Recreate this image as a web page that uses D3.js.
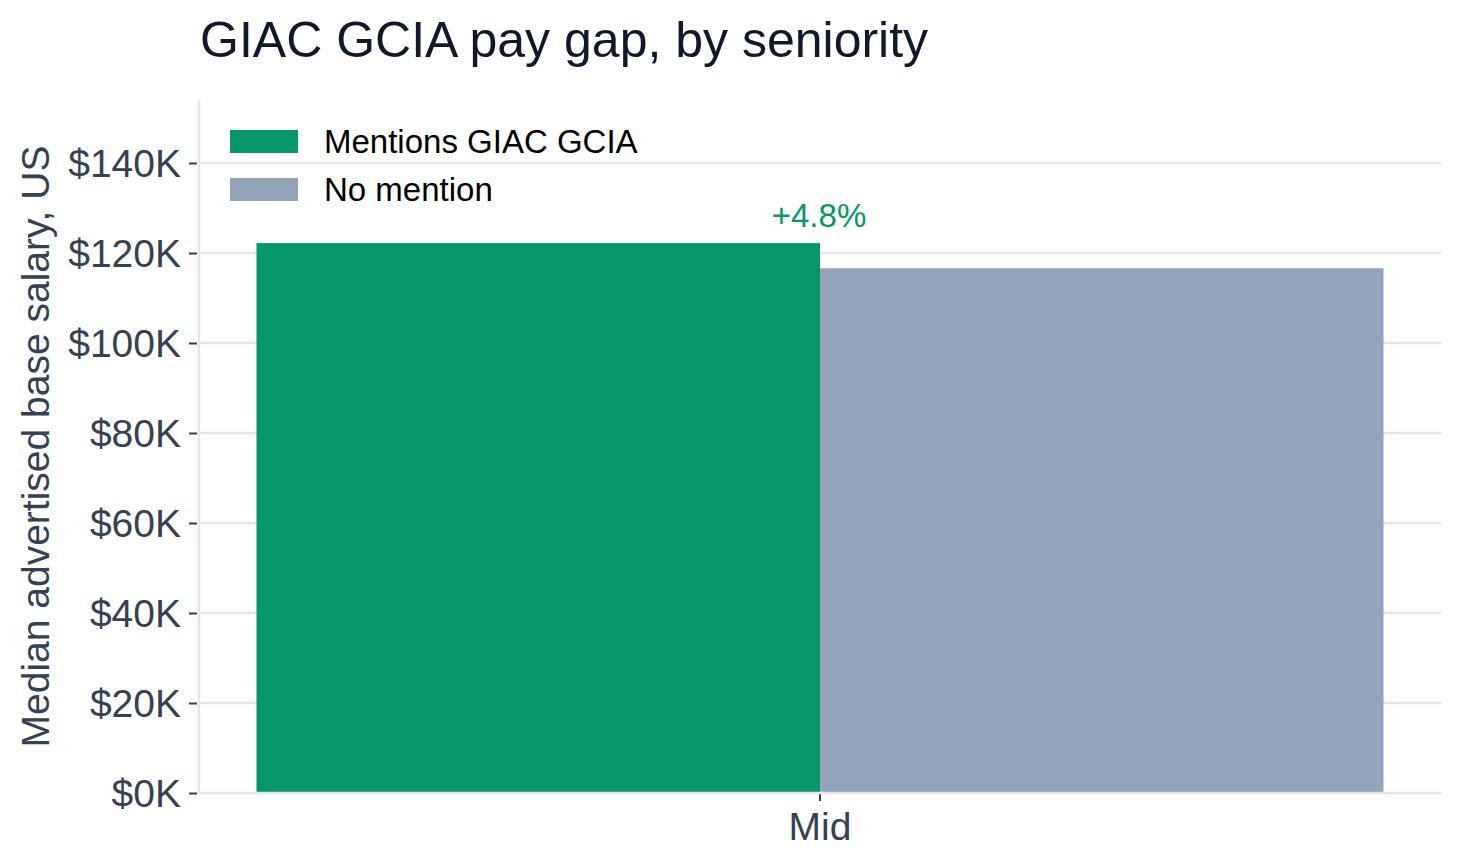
<!DOCTYPE html>
<html>
<head>
<meta charset="utf-8">
<script src="https://cdn.jsdelivr.net/npm/d3@7"></script>
<style>
  body { margin: 0; background: #fff; }
  text { font-family: "Liberation Sans", Arial, Helvetica, sans-serif; }
</style>
</head>
<body>
<div id="chart"></div>
<script>
// data
var seniority = ['Mid'];
var groups = ['Mentions GIAC GCIA', 'No mention'];
var mentionValues = [122200];
var noMentionValues = [116600];
var gapLabels = ['+4.8%'];
var yTicks = [0, 20000, 40000, 60000, 80000, 100000, 120000, 140000];
var yMax = 154000;

var colors = {'Mentions GIAC GCIA': '#07966a', 'No mention': '#95a3b8'};

var width = 1459,
    height = 868,
    margins = {left: 199, right: 18, top: 100, bottom: 75};

var svg = d3.select('#chart')
    .append('svg')
        .attr('width', width)
        .attr('height', height);

// scales
var x0 = d3.scaleBand()
    .domain(seniority)
    .range([margins.left, width - margins.right])
    .paddingInner(0)
    .paddingOuter(0.051);

var x1 = d3.scaleBand()
    .domain(groups)
    .range([0, x0.bandwidth()])
    .padding(0);

var y = d3.scaleLinear()
    .domain([0, yMax])
    .range([height - margins.bottom, margins.top]);

// gridlines
svg.append('g')
    .selectAll('line')
    .data(yTicks.slice(1))
    .enter()
    .append('line')
        .attr('x1', margins.left)
        .attr('x2', width - margins.right)
        .attr('y1', function(d) { return y(d); })
        .attr('y2', function(d) { return y(d); })
        .attr('stroke', '#e5e7eb')
        .attr('stroke-width', 2.5);

// bars
var rows = seniority.map(function(s, i) {
    return {seniority: s, values: [
        {group: groups[0], value: mentionValues[i]},
        {group: groups[1], value: noMentionValues[i]}
    ], label: gapLabels[i]};
});

var cat = svg.selectAll('.cat')
    .data(rows)
    .enter()
    .append('g')
        .attr('class', 'cat')
        .attr('transform', function(d) { return 'translate(' + x0(d.seniority) + ',0)'; });

cat.selectAll('rect')
    .data(function(d) { return d.values; })
    .enter()
    .append('rect')
        .attr('x', function(d) { return x1(d.group); })
        .attr('width', x1.bandwidth())
        .attr('y', function(d) { return y(d.value); })
        .attr('height', function(d) { return y(0) - y(d.value); })
        .attr('fill', function(d) { return colors[d.group]; });

cat.append('text')
    .attr('x', x0.bandwidth() / 2 - 1)
    .attr('y', function(d) { return y(d3.max(d.values, function(v) { return v.value; })) - 16; })
    .attr('text-anchor', 'middle')
    .attr('font-size', 33)
    .attr('fill', '#07966a')
    .text(function(d) { return d.label; });

// y axis
var yAxis = svg.append('g')
    .attr('transform', 'translate(' + (margins.left - 2) + ',0)')
    .call(d3.axisLeft(y)
        .tickValues(yTicks)
        .tickSize(8)
        .tickPadding(8)
        .tickFormat(function(d) { return '$' + d / 1000 + 'K'; }));
yAxis.select('.domain').remove();
yAxis.selectAll('.tick line').attr('stroke', '#374151').attr('stroke-width', 2);
yAxis.selectAll('.tick text')
    .attr('font-size', 39)
    .attr('fill', '#374151')
    .attr('dy', '0.35em');

svg.append('line')
    .attr('x1', margins.left).attr('x2', margins.left)
    .attr('y1', margins.top).attr('y2', height - margins.bottom)
    .attr('stroke', '#e5e7eb').attr('stroke-width', 2.5);

// x axis
var xAxis = svg.append('g')
    .attr('transform', 'translate(0,' + (height - margins.bottom) + ')')
    .call(d3.axisBottom(x0).tickSize(8).tickPadding(11));
xAxis.select('.domain').remove();
xAxis.selectAll('.tick line').attr('stroke', '#374151').attr('stroke-width', 2);
xAxis.selectAll('.tick text')
    .attr('font-size', 39)
    .attr('fill', '#374151');

svg.append('line')
    .attr('x1', margins.left).attr('x2', width - margins.right)
    .attr('y1', y(0)).attr('y2', y(0))
    .attr('stroke', '#e5e7eb').attr('stroke-width', 2.5);

// y label
svg.append('text')
    .attr('transform', 'translate(49,' + (margins.top + height - margins.bottom) / 2 + ') rotate(-90)')
    .attr('text-anchor', 'middle')
    .attr('font-size', 39)
    .attr('fill', '#374151')
    .text('Median advertised base salary, US');

// title
svg.append('text')
    .attr('x', 200)
    .attr('y', 57)
    .attr('font-size', 50)
    .attr('fill', '#111827')
    .text('GIAC GCIA pay gap, by seniority');

// legend
var legend = svg.append('g')
    .selectAll('g')
    .data(groups)
    .enter()
    .append('g')
        .attr('transform', function(d, i) { return 'translate(230,' + (130 + i * 48) + ')'; });

legend.append('rect')
    .attr('width', 68)
    .attr('height', 23)
    .attr('fill', function(d) { return colors[d]; });

legend.append('text')
    .attr('x', 94)
    .attr('y', 23)
    .attr('font-size', 33)
    .attr('fill', '#000')
    .text(function(d) { return d; });
</script>
</body>
</html>
